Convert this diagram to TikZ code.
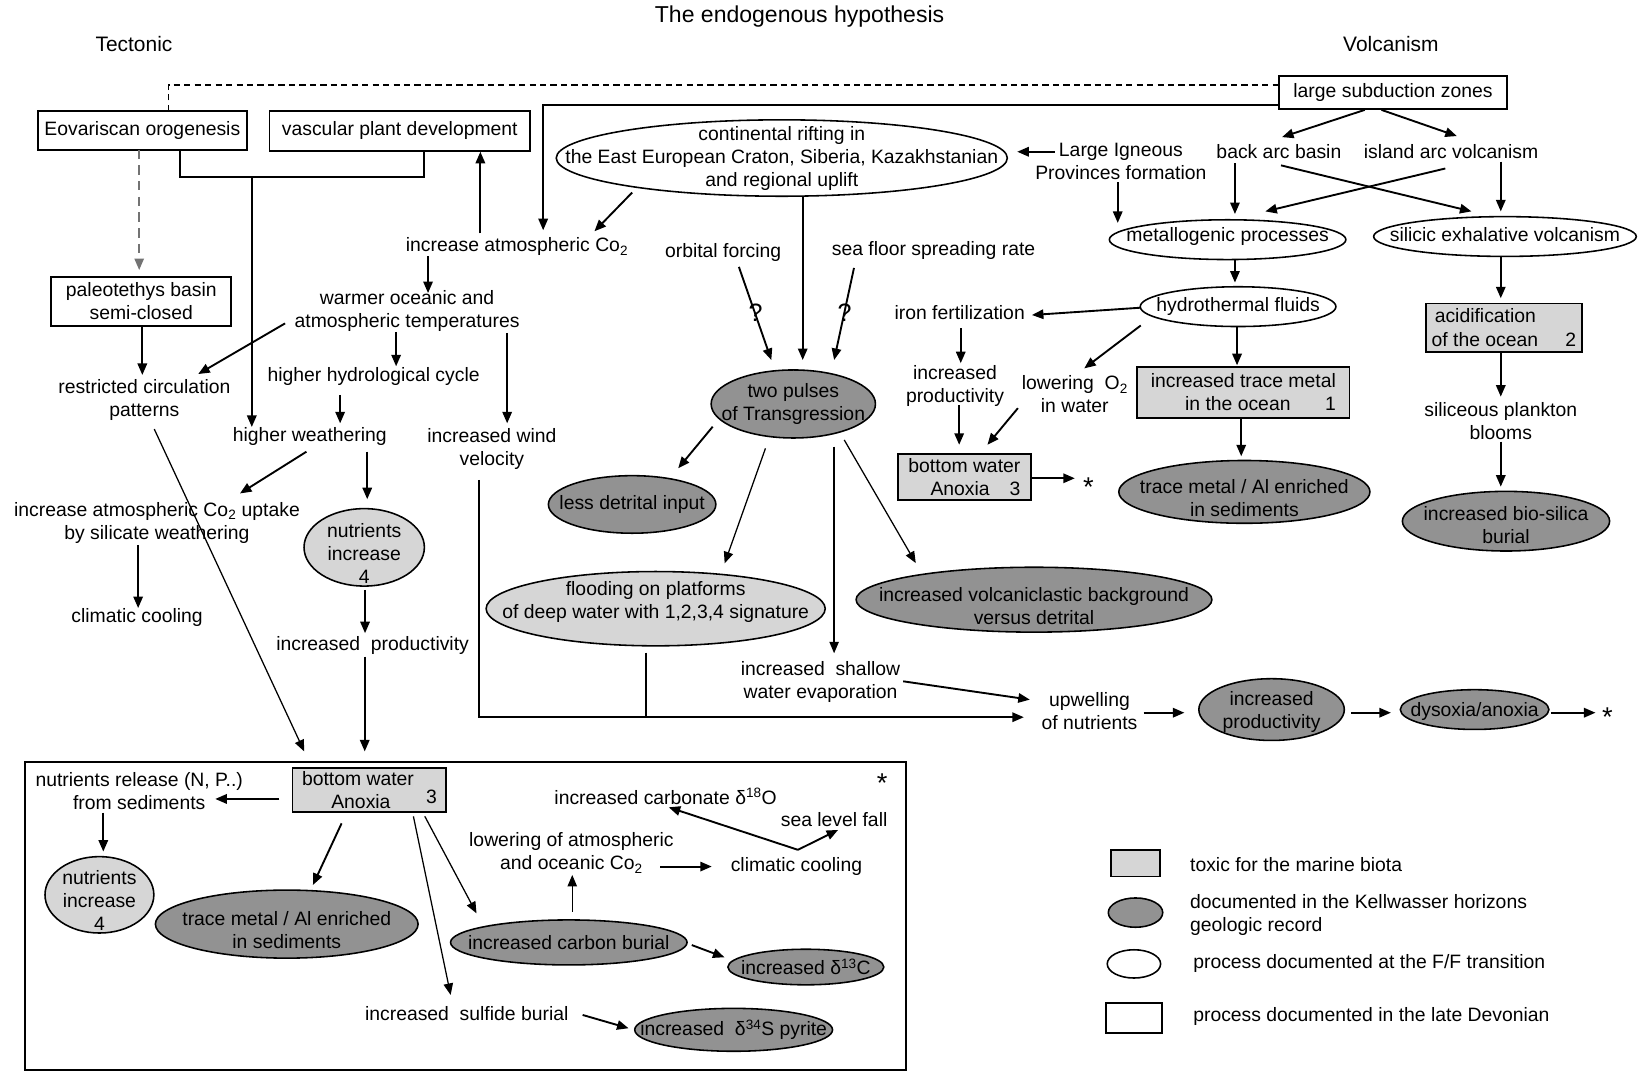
\documentclass[tikz,border=0pt]{standalone}
\usepackage{fontspec}
\setmainfont{Liberation Sans}
\usetikzlibrary{shapes.geometric,arrows.meta,calc}
\definecolor{dfill}{RGB}{146,146,146}
\definecolor{lfill}{RGB}{214,214,214}
\begin{document}
\begin{tikzpicture}[x=1pt,y=-1pt,font=\fontsize{18.5}{22}\selectfont,
  wbox/.style={draw,rectangle,inner sep=0pt,line width=1.8pt,align=center,fill=white},
  gbox/.style={wbox,fill=lfill},
  ov/.style={draw,ellipse,inner sep=0pt,line width=1.5pt},
  dov/.style={ov,fill=dfill},
  lov/.style={ov,fill=lfill},
  txt/.style={align=center,inner sep=1pt},
  startxt/.style={inner sep=0pt,font=\fontsize{26}{26}\selectfont},
  arr/.style={-{Triangle[length=11pt,width=9pt]},line width=1.8pt},
  tarr/.style={arr,line width=1.2pt}]
\fill[white] (0,0) rectangle (1568,1025);
\useasboundingbox (0,0) rectangle (1568,1025);

% headings
\node[txt,font=\fontsize{22}{26}\selectfont] (title) at (764,16) {The endogenous hypothesis};
\node[txt,font=\fontsize{20}{24}\selectfont] (tect) at (128,42) {Tectonic};
\node[txt,font=\fontsize{20}{24}\selectfont] (volc) at (1329,42) {Volcanism};

% big box
\node[draw,line width=1.8pt,minimum width=842,minimum height=294,inner sep=0pt] (bigbox) at (445,875) {};

% white boxes
\node[wbox,minimum width=200,minimum height=37] (eov) at (136,124.5) {Eovariscan orogenesis};
\node[wbox,minimum width=249,minimum height=38] (vpd) at (382,125) {vascular plant development};
\node[wbox,minimum width=218,minimum height=31] (lsz) at (1331,88.5) {large subduction zones};
\node[wbox,minimum width=172,minimum height=47] (pal) at (135,288) {paleotethys basin\\semi-closed};

% grey boxes
\node[gbox,minimum width=149,minimum height=46,align=left] (acid) at (1437,313) {\hspace*{3pt}acidification\\of the ocean\hspace{26pt}2};
\node[gbox,minimum width=203,minimum height=49,align=right] (tmo) at (1188,375) {increased trace metal\\in the ocean\hspace{33pt}1};
\node[gbox,minimum width=127,minimum height=44,align=right] (bwa1) at (921.5,456) {bottom water\\Anoxia\hspace{19pt}3};
\node[gbox,minimum width=147,minimum height=42,align=left] (bwa2) at (353,755) {bottom water\\\hspace*{28pt}Anoxia\hspace{34pt}\raisebox{5pt}{3}};

% white ellipses
\node[ov,minimum width=431,minimum height=73] (rift) at (747,151) {};
\node[txt] (rift-t) at (rift) {continental rifting in\\the East European Craton, Siberia, Kazakhstanian\\and regional uplift};
\node[ov,minimum width=226,minimum height=38] (meta) at (1173,229) {};
\node[txt] (meta-t) at ($(meta)+(0,-3)$) {metallogenic processes};
\node[ov,minimum width=251,minimum height=38] (sil) at (1438,226) {};
\node[txt] (sil-t) at ($(sil)+(0,-2)$) {silicic exhalative volcanism};
\node[ov,minimum width=187,minimum height=38] (hyd) at (1183,293) {};
\node[txt] (hyd-t) at (hyd) {hydrothermal fluids};

% dark ellipses
\node[dov,minimum width=157,minimum height=65] (tp) at (758,386) {};
\node[txt] (tp-t) at (tp) {two pulses\\of Transgression};
\node[dov,minimum width=160,minimum height=55] (ldi) at (604,482) {};
\node[txt] (ldi-t) at (ldi) {less detrital input};
\node[dov,minimum width=340,minimum height=62] (volcl) at (988,573) {};
\node[txt] (volcl-t) at ($(volcl)+(0,6)$) {increased volcaniclastic background\\versus detrital};
\node[dov,minimum width=240,minimum height=60] (tma1) at (1189,470) {};
\node[txt] (tma1-t) at ($(tma1)+(0,6)$) {trace metal / Al enriched\\in sediments};
\node[dov,minimum width=198,minimum height=57] (bios) at (1439,498) {};
\node[txt] (bios-t) at ($(bios)+(0,4)$) {increased bio-silica\\burial};
\node[dov,minimum width=139,minimum height=59] (iprod) at (1215,678) {};
\node[txt] (iprod-t) at ($(iprod)+(0,2)$) {increased\\productivity};
\node[dov,minimum width=142,minimum height=38] (dys) at (1409,678) {};
\node[txt] (dys-t) at ($(dys)+(0,2)$) {dysoxia/anoxia};
\node[dov,minimum width=251,minimum height=65] (tma2) at (274,883) {};
\node[txt] (tma2-t) at ($(tma2)+(0,6)$) {trace metal / Al enriched\\in sediments};
\node[dov,minimum width=226,minimum height=43] (cb) at (543.5,900.5) {};
\node[txt] (cb-t) at (cb) {increased carbon burial};
\node[dov,minimum width=149,minimum height=34] (d13) at (770,924) {};
\node[txt] (d13-t) at (d13) {increased δ\textsuperscript{13}C};
\node[dov,minimum width=189,minimum height=41] (d34) at (701,984) {};
\node[txt] (d34-t) at (d34) {increased\ \ δ\textsuperscript{34}S pyrite};

% light ellipses
\node[lov,minimum width=115,minimum height=74] (nut1) at (348,523) {};
\node[txt] (nut1-t) at ($(nut1)+(0,6)$) {nutrients\\increase\\4};
\node[lov,minimum width=324,minimum height=71] (flood) at (626.5,581.6) {};
\node[txt] (flood-t) at ($(flood)+(0,-6.5)$) {flooding on platforms\\of deep water with 1,2,3,4 signature};
\node[lov,minimum width=104,minimum height=73] (nut2) at (95,855) {};
\node[txt] (nut2-t) at ($(nut2)+(0,5)$) {nutrients\\increase\\4};

% plain text nodes
\node[txt] (ics) at (494,236) {increase atmospheric Co\textsubscript{2}};
\node[txt] (warm) at (389,297) {warmer oceanic and\\atmospheric temperatures};
\node[txt] (orb) at (691,241) {orbital forcing};
\node[txt] (sfs) at (892,239) {sea floor spreading rate};
\node[txt,font=\fontsize{24}{24}\selectfont] (q1) at (722,299) {?};
\node[txt,font=\fontsize{24}{24}\selectfont] (q2) at (807,299) {?};
\node[txt] (lip) at (1071,154.5) {Large Igneous\\Provinces formation};
\node[txt] (bab) at (1222,145) {back arc basin};
\node[txt] (iav) at (1386.5,145) {island arc volcanism};
\node[txt] (iron) at (917,299) {iron fertilization};
\node[txt] (incp) at (912.5,369) {increased\\productivity};
\node[txt] (lowo) at (1027,377) {lowering\ \ O\textsubscript{2}\\in water};
\node[startxt] (star1) at (1040,465) {*};
\node[txt] (sipb) at (1434,402) {siliceous plankton\\blooms};
\node[txt] (rest) at (138,382) {restricted circulation\\patterns};
\node[txt] (hyc) at (357,360) {higher hydrological cycle};
\node[txt] (hw) at (296,417) {higher weathering};
\node[txt] (wind) at (470,429) {increased wind\\velocity};
\node[txt] (upt) at (150,499.5) {increase atmospheric Co\textsubscript{2} uptake\\by silicate weathering};
\node[txt] (cc1) at (131,590) {climatic cooling};
\node[txt] (iprod1) at (356,617) {increased\ \ productivity};
\node[txt] (evap) at (784,652) {increased\ \ shallow\\water evaporation};
\node[txt] (upw) at (1041,679.5) {upwelling\\of nutrients};
\node[startxt] (star2) at (1536,685) {*};
\node[txt] (nrel) at (133,755.5) {nutrients release (N, P..)\\from sediments};
\node[startxt] (star3) at (843,748) {*};
\node[txt] (carb) at (636,761) {increased carbonate δ\textsuperscript{18}O};
\node[txt] (slf) at (797,783) {sea level fall};
\node[txt] (low2) at (546,815) {lowering of atmospheric\\and oceanic Co\textsubscript{2}};
\node[txt] (cc2) at (761,828) {climatic cooling};
\node[txt] (sulf) at (446,968) {increased\ \ sulfide burial};

% legend
\node[gbox,minimum width=47,minimum height=25] (lg1) at (1085,825) {};
\node[txt,anchor=west] (lg1t) at (1136,826.5) {toxic for the marine biota};
\node[dov,minimum width=52,minimum height=28] (lg2) at (1085,872) {};
\node[txt,anchor=west,align=left] (lg2t) at (1136,874.5) {documented in the Kellwasser horizons\\geologic record};
\node[ov,minimum width=51,minimum height=27] (lg3) at (1083.5,921) {};
\node[txt,anchor=west] (lg3t) at (1139,920.5) {process documented at the F/F transition};
\node[wbox,minimum width=53,minimum height=29] (lg4) at (1083.5,972.6) {};
\node[txt,anchor=west] (lg4t) at (1139,971) {process documented in the late Devonian};

% ---------------- connectors ----------------
\draw[line width=1.4pt,dash pattern=on 6pt off 4pt] ($(eov)+(25,-18.5)$) |- ($(lsz)+(-109,-7.5)$);
\draw[arr] ($(lsz)+(-109,11.5)$) -| ($(ics)+(25,-16)$);
\draw[arr,black!55,line width=1.4pt,dash pattern=on 9pt off 6pt] ($(eov)+(-3,18.5)$) -- ($(pal)+(-2,-30)$);
\draw[line width=1.8pt] ($(eov)+(36,18.5)$) |- ($(vpd)+(23,44)$) -- ($(vpd)+(23,19)$);
\coordinate (brk) at ($(eov)+(104.6,44.5)$);
\draw[arr] (brk) -- ($(hw)+(-55.4,-9)$);
\draw[arr] ($(ics)+(-35,-13)$) -- ($(vpd)+(77,20)$);
\draw[arr] ($(ics)+(-85,9)$) -- ($(warm)+(20,-17)$);
\draw[arr] ($(rift)+(-143,33)$) -- ($(ics)+(74,-15)$);
\draw[arr] ($(rift)+(20,37)$) -- ($(tp)+(9,-42)$);
\draw[arr] ($(orb)+(15,14)$) -- ($(tp)+(-21,-42)$);
\draw[arr] ($(sfs)+(-76,17)$) -- ($(tp)+(39,-42)$);
\draw[arr] ($(lip)+(-63,-9.5)$) -- ($(rift)+(225,-6)$);
\draw[arr] ($(lip)+(-3,19.5)$) -- ($(meta)+(-105,-16)$);
\draw[arr] ($(lsz)+(-27,16.5)$) -- ($(bab)+(3,-14)$);
\draw[arr] ($(lsz)+(-11,16.5)$) -- ($(iav)+(5.5,-15)$);
\draw[arr] ($(bab)+(-42,11)$) -- ($(meta)+(7,-24.5)$);
\draw[arr] ($(bab)+(2,13)$) -- ($(sil)+(-32,-24)$);
\draw[arr] ($(iav)+(-5.5,16)$) -- ($(meta)+(36,-27)$);
\draw[arr] ($(iav)+(47.5,9.5)$) -- ($(sil)+(-4,-24)$);
\draw[arr] ($(meta)+(7,19)$) -- ($(hyd)+(-3,-23)$);
\draw[arr] ($(sil)+(-4,19)$) -- ($(acid)+(-3,-28)$);
\draw[arr] ($(acid)+(-3,23)$) -- ($(sipb)+(0,-23)$);
\draw[arr] ($(sipb)+(0,20)$) -- ($(bios)+(-5,-33)$);
\draw[arr] ($(hyd)+(-1,19)$) -- ($(tmo)+(-6,-26)$);
\draw[arr] ($(tmo)+(-2,25)$) -- ($(tma1)+(-3,-34)$);
\draw[arr] ($(hyd)+(-93,1)$) -- ($(iron)+(69,2)$);
\draw[arr] ($(iron)+(1,14.6)$) -- ($(incp)+(5.5,-22)$);
\draw[arr] ($(incp)+(4,18)$) -- ($(bwa1)+(-5,-31)$);
\draw[arr] ($(hyd)+(-93,18)$) -- ($(lowo)+(9,-25)$);
\draw[arr] ($(lowo)+(-54.4,13)$) -- ($(bwa1)+(22,-31)$);
\draw[arr] ($(bwa1)+(63.5,1)$) -- ($(star1)+(-13,-8)$);
\draw[arr] ($(tp)+(-77,21.7)$) -- ($(ldi)+(44,-34.5)$);
\draw[tarr] ($(tp)+(-26.6,42.4)$) -- ($(flood)+(65.9,-43.3)$);
\draw[tarr] ($(tp)+(39,40.8)$) -- ($(evap)+(13,-27.8)$);
\draw[tarr] ($(tp)+(48.7,34.4)$) -- ($(volcl)+(-113,-35)$);
\draw[arr] ($(evap)+(79,-1)$) -- ($(upw)+(-57,-11)$);
\draw[arr] ($(wind)+(-12.3,29.6)$) |- ($(upw)+(-62.7,5.8)$);
\coordinate (jn) at ($(flood)+(-9,103.2)$);
\draw[line width=1.8pt] ($(flood)+(-9,42)$) -- (jn);
\draw[arr] ($(warm)+(95.6,21)$) -- ($(wind)+(14.6,-24.5)$);
\draw[arr] ($(warm)+(-10.5,20)$) -- ($(hyc)+(21.5,-10)$);
\draw[arr] ($(hyc)+(-32,17.4)$) -- ($(hw)+(29,-12.5)$);
\draw[arr] ($(warm)+(-116.6,12)$) -- ($(rest)+(51.4,-24.6)$);
\draw[arr] ($(pal)+(1,24)$) -- ($(rest)+(-2,-23.7)$);
\draw[tarr] ($(rest)+(9.4,28)$) -- ($(bwa2)+(-62.3,-37)$);
\draw[arr] ($(hw)+(-3.2,14.6)$) -- ($(upt)+(79.3,-28)$);
\draw[arr] ($(hw)+(54.9,14.6)$) -- ($(nut1)+(2.9,-46)$);
\draw[arr] ($(upt)+(-18,21.2)$) -- ($(cc1)+(1,-9)$);
\draw[arr] ($(nut1)+(0.8,40.7)$) -- ($(iprod1)+(-7.2,-12)$);
\draw[arr] ($(iprod1)+(-7.5,10.4)$) -- ($(bwa2)+(-4.5,-37)$);
\draw[arr] ($(upw)+(51.7,1.5)$) -- ($(iprod)+(-83.3,3)$);
\draw[arr] ($(iprod)+(75.9,3)$) -- ($(dys)+(-80,3)$);
\draw[arr] ($(dys)+(73,3)$) -- ($(star2)+(-11.5,-4)$);
\draw[arr] ($(bwa2)+(-86,8.4)$) -- ($(nrel)+(72.7,7.9)$);
\draw[arr] ($(nrel)+(-34.3,21)$) -- ($(nut2)+(3.7,-41.3)$);
\draw[arr] ($(bwa2)+(-26.6,31.7)$) -- ($(tma2)+(25,-37.4)$);
\draw[tarr] ($(bwa2)+(52.9,25)$) -- ($(cb)+(-88.2,-27.8)$);
\draw[tarr] ($(bwa2)+(42,25)$) -- ($(sulf)+(-15.4,-17.3)$);
\draw[tarr] ($(cb)+(3.3,-29.5)$) -- ($(low2)+(0.8,21)$);
\draw[arr] ($(low2)+(84.8,13)$) -- ($(cc2)+(-80.9,0)$);
\draw[arr] ($(cc2)+(1.4,-16)$) -- ($(carb)+(3,10.4)$);
\draw[arr] ($(cc2)+(1.4,-16)$) -- ($(slf)+(3.8,10)$);
\draw[arr] ($(cb)+(117.5,2.5)$) -- ($(d13)+(-77.8,-9.3)$);
\draw[arr] ($(sulf)+(110.7,1.8)$) -- ($(d34)+(-100.4,-1.5)$);
\end{tikzpicture}
\end{document}
